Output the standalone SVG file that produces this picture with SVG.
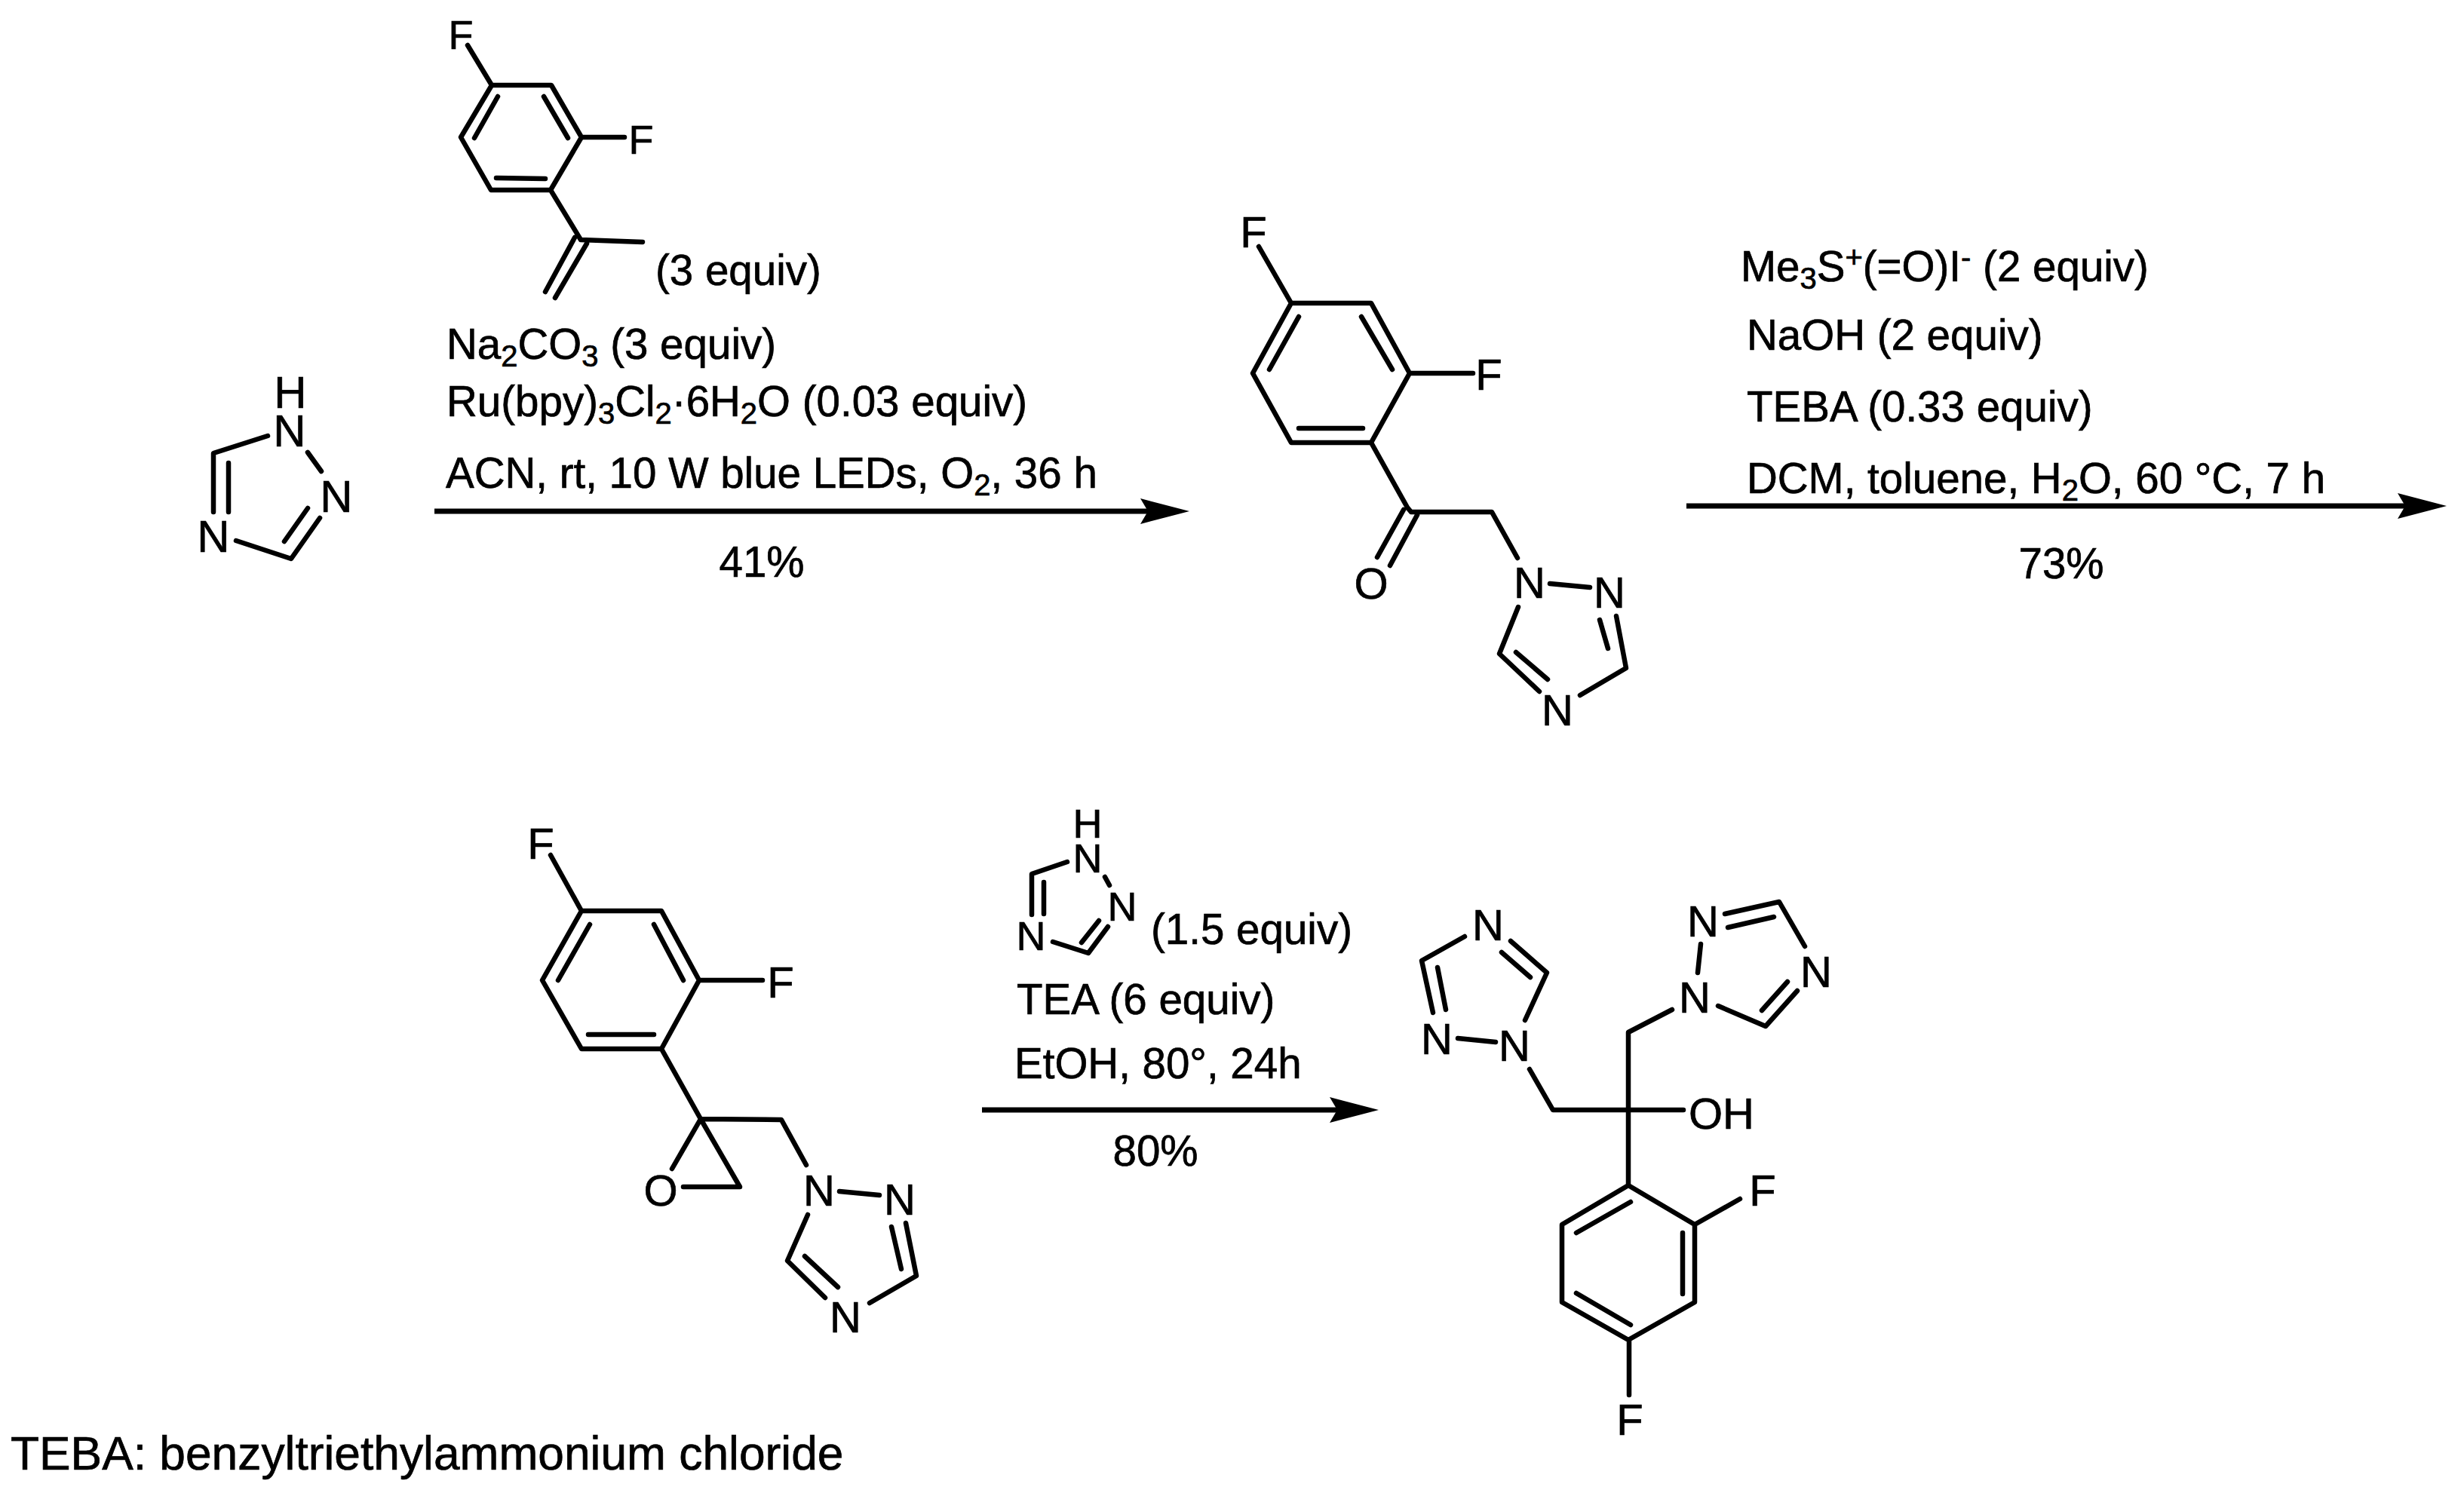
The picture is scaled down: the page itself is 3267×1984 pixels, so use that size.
<svg xmlns="http://www.w3.org/2000/svg" width="3267" height="1984" viewBox="0 0 3267 1984">
<style>
.b{fill:none;stroke:#000;stroke-width:6.5;stroke-linecap:round;stroke-linejoin:round}
.a{fill:none;stroke:#000;stroke-width:7}
text{font-family:"Liberation Sans",Arial,sans-serif;font-size:56.5px;fill:#000;stroke:#000;stroke-width:.7}
.c{text-anchor:middle;font-size:58px}
.l{text-anchor:middle;font-size:60px}
.m{text-anchor:middle;font-size:54px}
.p{text-anchor:middle}
.s{font-size:40px}
</style>
<defs><marker id="h" markerUnits="userSpaceOnUse" markerWidth="70" markerHeight="40" refX="10" refY="18" orient="auto"><path d="M0,1L65,18L0,35L10,18Z" fill="#000"/></marker></defs>
<rect width="3267" height="1984" fill="#fff"/>
<g id="triazole">
<path class="b" d="M355,578L283,601L283,679M303,614L303,679M313,717L386,741L424,687M377,718L408,674M408,600L426,625"/>
<text class="l" x="385" y="541">H</text><text class="l" x="384" y="592">N</text><text class="l" x="446" y="679">N</text><text class="l" x="283" y="732">N</text>
</g>
<g id="difluorostyrene">
<path class="b" d="M620,60L652,113L731,113L771,182L730,252L651,252L611,182L652,113M721,128L753,183M660,128L629,183M658,236L723,237M771,182L828,182M730,252L770,318L852,321M762,315L723,387M778,323L736,395"/>
<text class="m" x="611" y="65">F</text><text class="m" x="850" y="204">F</text>
</g>
<g id="reagents-1">
<text x="869" y="378">(3 equiv)</text>
<text x="592" y="476">Na<tspan class="s" dy="10">2</tspan><tspan dy="-10">CO</tspan><tspan class="s" dy="10">3</tspan><tspan dy="-10"> (3 equiv)</tspan></text>
<text x="592" y="552">Ru(bpy)<tspan class="s" dy="10">3</tspan><tspan dy="-10">Cl</tspan><tspan class="s" dy="10">2</tspan><tspan dy="-10">·6H</tspan><tspan class="s" dy="10">2</tspan><tspan dy="-10">O (0.03 equiv)</tspan></text>
<text x="591" y="647">ACN, rt, 10 W blue LEDs, O<tspan class="s" dy="10">2</tspan><tspan dy="-10">, 36 h</tspan></text>
<text class="p" x="1010" y="765">41%</text>
</g>
<g id="ketone">
<path class="b" d="M1669,327L1712,402L1818,402L1869,495L1818,587L1712,587L1661,495L1712,402M1805,420L1846,490M1722,420L1683,490M1722,568L1807,568M1869,495L1953,495M1818,587L1866,673L1871,679L1978,679L2012,740M1861,676L1826,739M1879,683L1843,750M2055,774L2108,779M2013,805L1988,867L2041,917M2010,865L2052,901M2095,922L2156,886L2143,817M2132,860L2121,822"/>
<text class="c" x="1662" y="328">F</text><text class="c" x="1974" y="517">F</text><text class="c" x="1818" y="794">O</text><text class="c" x="2028" y="793">N</text><text class="c" x="2134" y="806">N</text><text class="c" x="2065" y="962">N</text>
</g>
<g id="reagents-2">
<text x="2308" y="373">Me<tspan class="s" dy="10">3</tspan><tspan dy="-10">S</tspan><tspan class="s" dy="-18">+</tspan><tspan dy="18">(=O)I</tspan><tspan class="s" dy="-18">-</tspan><tspan dy="18"> (2 equiv)</tspan></text>
<text x="2316" y="464">NaOH (2 equiv)</text>
<text x="2316" y="559">TEBA (0.33 equiv)</text>
<text x="2316" y="654">DCM, toluene, H<tspan class="s" dy="10">2</tspan><tspan dy="-10">O, 60 °C, 7 h</tspan></text>
<text class="p" x="2733" y="767">73%</text>
</g>
<g id="epoxide">
<path class="b" d="M730,1134L771,1208L877,1208L927,1300L877,1391L771,1391L719,1300L771,1208M867,1226L906,1300M782,1226L740,1300M780,1372L867,1372M927,1300L1011,1300M877,1391L929,1484L1036,1485L1069,1545M929,1484L891,1550M906,1574L981,1574L929,1484M1113,1580L1166,1585M1071,1611L1044,1672L1094,1721M1067,1666L1111,1707M1153,1728L1215,1692L1201,1622M1195,1683L1182,1627"/>
<text class="c" x="717" y="1139">F</text><text class="c" x="1035" y="1323">F</text><text class="c" x="876" y="1599">O</text><text class="c" x="1086" y="1599">N</text><text class="c" x="1193" y="1611">N</text><text class="c" x="1121" y="1767">N</text>
</g>
<g id="triazole-2">
<path class="b" d="M1415,1143L1368,1159L1368,1213M1384,1170L1384,1212M1396,1249L1443,1264L1469,1229M1434,1250L1457,1221M1465,1163L1471,1174"/>
<text class="m" x="1442" y="1111">H</text><text class="m" x="1442" y="1157">N</text><text class="m" x="1488" y="1221">N</text><text class="m" x="1367" y="1260">N</text>
</g>
<g id="reagents-3">
<text x="1526" y="1252">(1.5 equiv)</text>
<text x="1348" y="1345">TEA (6 equiv)</text>
<text x="1345" y="1430">EtOH, 80°, 24h</text>
<text class="p" x="1532" y="1546">80%</text>
</g>
<g id="fluconazole">
<path class="b" d="M2232,1472L2059,1472L2028,1418M2217,1339L2159,1369L2159,1572M2255,1252L2251,1290M2278,1334L2341,1361L2383,1314M2336,1340L2370,1302M2393,1255L2359,1196L2287,1212M2352,1216L2291,1230M1983,1382L1933,1377M2022,1353L2051,1290L2003,1248M2029,1296L1991,1263M1942,1242L1885,1274L1900,1343M1906,1283L1917,1339M2159,1572L2247,1624L2247,1727L2159,1777L2071,1727L2071,1624L2159,1572M2162,1594L2090,1635M2231,1635L2231,1716M2090,1715L2162,1757M2247,1624L2307,1590M2160,1777L2160,1850"/>
<text style="font-size:58px" x="2239" y="1497">OH</text><text class="c" x="2247" y="1343">N</text><text class="c" x="2258" y="1242">N</text><text class="c" x="2408" y="1309">N</text><text class="c" x="2008" y="1407">N</text><text class="c" x="1905" y="1398">N</text><text class="c" x="1973" y="1247">N</text><text class="c" x="2337" y="1599">F</text><text class="c" x="2161" y="1903">F</text>
</g>
<g id="connectors">
<line class="a" x1="576" y1="678" x2="1522" y2="678" marker-end="url(#h)"/>
<line class="a" x1="2236" y1="671" x2="3189" y2="671" marker-end="url(#h)"/>
<line class="a" x1="1302" y1="1472" x2="1773" y2="1472" marker-end="url(#h)"/>
</g>
<text id="footnote" style="font-size:62.3px" x="14" y="1949">TEBA: benzyltriethylammonium chloride</text>
</svg>
